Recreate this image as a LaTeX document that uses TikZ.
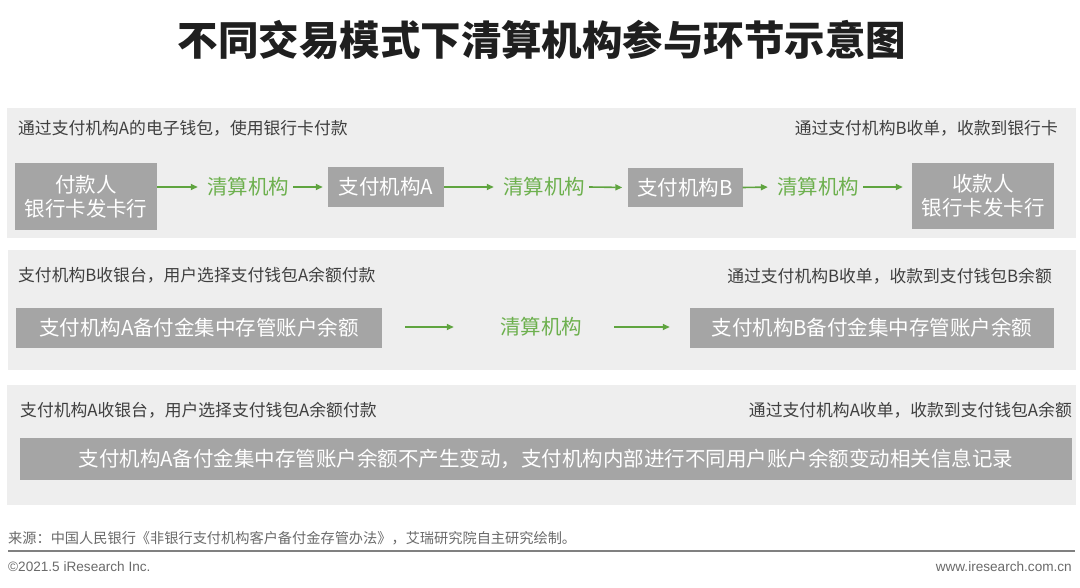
\documentclass[tikz,border=0pt]{standalone}
\usepackage{fontspec}
\setmainfont{Noto Sans CJK SC}
\newfontfamily\latinsans{Liberation Sans}
\usetikzlibrary{arrows.meta}
\definecolor{panelbg}{HTML}{EEEEEE}
\definecolor{boxgray}{HTML}{A5A5A5}
\definecolor{flowgreen}{HTML}{6DB04E}
\definecolor{arrowgreen}{HTML}{5FA43F}
\definecolor{labelgray}{HTML}{3F3F3F}
\definecolor{footgray}{HTML}{6A6A6A}
\tikzset{
  panel/.style={fill=panelbg, draw=none},
  graybox/.style={fill=boxgray, draw=none, text=white, font=\fontsize{20.5}{24}\selectfont, align=center, inner sep=0pt},
  clearing/.style={text=flowgreen, font=\fontsize{20.5}{24}\selectfont, inner sep=4pt},
  flowarrow/.style={draw=arrowgreen, line width=1.6pt, -{Triangle[length=7pt,width=6pt]}},
  lbl/.style={text=labelgray, font=\fontsize{16.8}{20}\selectfont, inner sep=0pt},
  foot/.style={text=footgray, inner sep=0pt}
}
\begin{document}
\begin{tikzpicture}[x=1pt,y=-1pt]
\useasboundingbox[fill=white] (0,0) rectangle (1080,587);
% title
\node[font=\bfseries\fontsize{40.5}{46}\selectfont, text=black!88] (title) at (542,40) {不同交易模式下清算机构参与环节示意图};
% panels
\fill[panel] (7,108) rectangle (1076,238);
\fill[panel] (8,250) rectangle (1076,370);
\fill[panel] (7,385) rectangle (1076,505);
% panel 1
\node[lbl, anchor=west] (l1) at (18,128) {通过支付机构A的电子钱包，使用银行卡付款};
\node[lbl, anchor=east] (r1) at (1058,128) {通过支付机构B收单，收款到银行卡};
\node[graybox, minimum width=142pt, minimum height=67pt] (payer) at (86,196.5) {付款人\\银行卡发卡行};
\node[clearing] (c1) at (248,187) {清算机构};
\node[graybox, minimum width=116pt, minimum height=40pt] (pa) at (386,187) {支付机构A};
\node[clearing] (c2) at (544,187) {清算机构};
\node[graybox, minimum width=115pt, minimum height=39pt] (pb) at (685,187.5) {支付机构B};
\node[clearing] (c3) at (818,187) {清算机构};
\node[graybox, minimum width=142pt, minimum height=66pt] (payee) at (983,196) {收款人\\银行卡发卡行};
\draw[flowarrow, shorten >=5pt] (payer.east |- c1.west) -- (c1.west);
\draw[flowarrow, shorten <=0pt, shorten >=5pt] (c1.east) -- (pa.west);
\draw[flowarrow, shorten <=0pt, shorten >=5pt] (pa.east) -- (c2.west);
\draw[flowarrow, shorten <=0pt, shorten >=5pt] (c2.east) -- (pb.west);
\draw[flowarrow, shorten <=0pt, shorten >=5pt] (pb.east) -- (c3.west);
\draw[flowarrow, shorten <=0pt, shorten >=9pt] (c3.east) -- (payee.west |- c3.east);
% panel 2
\node[lbl, anchor=west] (l2) at (18,275) {支付机构B收银台，用户选择支付钱包A余额付款};
\node[lbl, anchor=east] (r2) at (1052,276) {通过支付机构B收单，收款到支付钱包B余额};
\node[graybox, minimum width=366pt, minimum height=40pt] (ba) at (199,328) {支付机构A备付金集中存管账户余额};
\node[clearing] (cc) at (541,327) {清算机构};
\node[graybox, minimum width=364pt, minimum height=40pt] (bb) at (872,328) {支付机构B备付金集中存管账户余额};
\draw[flowarrow, shorten <=23pt, shorten >=42pt] (ba.east |- cc.west) -- (cc.west);
\draw[flowarrow, shorten <=28pt, shorten >=20pt] (cc.east) -- (bb.west |- cc.east);
% panel 3
\node[lbl, anchor=west] (l3) at (20,410) {支付机构A收银台，用户选择支付钱包A余额付款};
\node[lbl, anchor=east] (r3) at (1072,410) {通过支付机构A收单，收款到支付钱包A余额};
\node[graybox, minimum width=1052pt, minimum height=42pt] (bc) at (546,459) {支付机构A备付金集中存管账户余额不产生变动，支付机构内部进行不同用户账户余额变动相关信息记录};
% footer
\node[foot, anchor=west, font=\fontsize{14.2}{16}\selectfont] (src) at (8,538) {来源：中国人民银行《非银行支付机构客户备付金存管办法》，艾瑞研究院自主研究绘制。};
\coordinate (ruleL) at (8,551);
\coordinate (ruleR) at (1075,551);
\draw[draw=black!50, line width=1.5pt] (ruleL) -- (ruleR);
\node[foot, anchor=west, font=\latinsans\fontsize{13.6}{15}\selectfont] (copy) at (8,567) {©2021.5 iResearch Inc.};
\node[foot, anchor=east, font=\latinsans\fontsize{13.6}{15}\selectfont] (web) at (1072,567) {www.iresearch.com.cn};
\end{tikzpicture}
\end{document}
